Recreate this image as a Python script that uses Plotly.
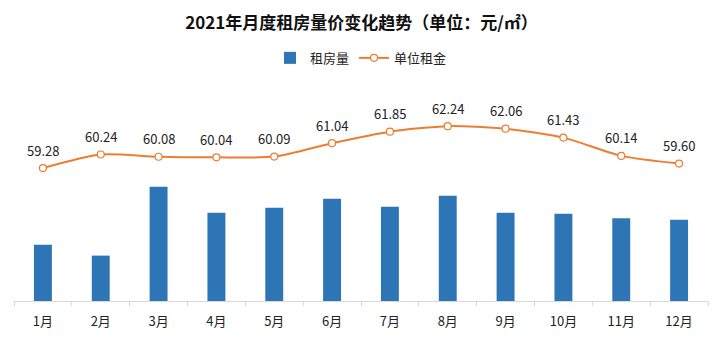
import plotly.graph_objects as go

months = ["1月", "2月", "3月", "4月", "5月", "6月", "7月", "8月", "9月", "10月", "11月", "12月"]
rent_volume = [56.5, 45.5, 114.5, 88.5, 93.5, 102.5, 94.5, 105.5, 88.5, 87.5, 83.0, 81.5]
unit_rent = [59.28, 60.24, 60.08, 60.04, 60.09, 61.04, 61.85, 62.24, 62.06, 61.43, 60.14, 59.60]

FONT = "Noto Sans CJK SC"

fig = go.Figure()
fig.add_trace(go.Bar(
    x=months, y=rent_volume, name="租房量",
    marker=dict(color="#2E75B6", line=dict(width=0)),
    width=0.31, yaxis="y",
))
fig.add_trace(go.Scatter(
    x=months, y=unit_rent, name="单位租金", yaxis="y2",
    mode="lines+markers",
    line=dict(color="#ED7D31", width=2, shape="spline", smoothing=0.7),
    marker=dict(symbol="circle", size=7, color="white", line=dict(color="#ED7D31", width=1.2)),
))

for m, v in zip(months, unit_rent):
    fig.add_annotation(x=m, y=v, xref="x", yref="y2", text=f"{v:.2f}",
                       showarrow=False, yshift=18,
                       font=dict(size=13, color="#222222", family=FONT))

fig.update_layout(
    width=723, height=343,
    margin=dict(l=14, r=15, t=95, b=41.5),
    paper_bgcolor="white", plot_bgcolor="white",
    title=dict(text="<b>2021年月度租房量价变化趋势（单位：元/㎡）</b>",
               x=0.5, xanchor="center", y=0.933, yanchor="middle",
               font=dict(size=17, color="#111111", family=FONT)),
    legend=dict(orientation="h", x=0.5, xanchor="center", y=1.18, yanchor="middle",
                font=dict(size=13, color="#222222", family=FONT), itemwidth=30,
                traceorder="normal"),
    showlegend=True,
    xaxis=dict(range=[-0.5, 11.5], showline=True, linecolor="#d9d9d9", linewidth=1,
               ticks="outside", tickson="boundaries", ticklen=4, tickcolor="#d9d9d9",
               ticklabelstandoff=8,
               tickfont=dict(size=13, color="#222222", family=FONT), showgrid=False),
    yaxis=dict(range=[0, 206.5], visible=False, showgrid=False),
    yaxis2=dict(range=[49.893, 64.44], overlaying="y", visible=False, showgrid=False),
    bargap=0.69,
)

fig.write_html("out.html")
